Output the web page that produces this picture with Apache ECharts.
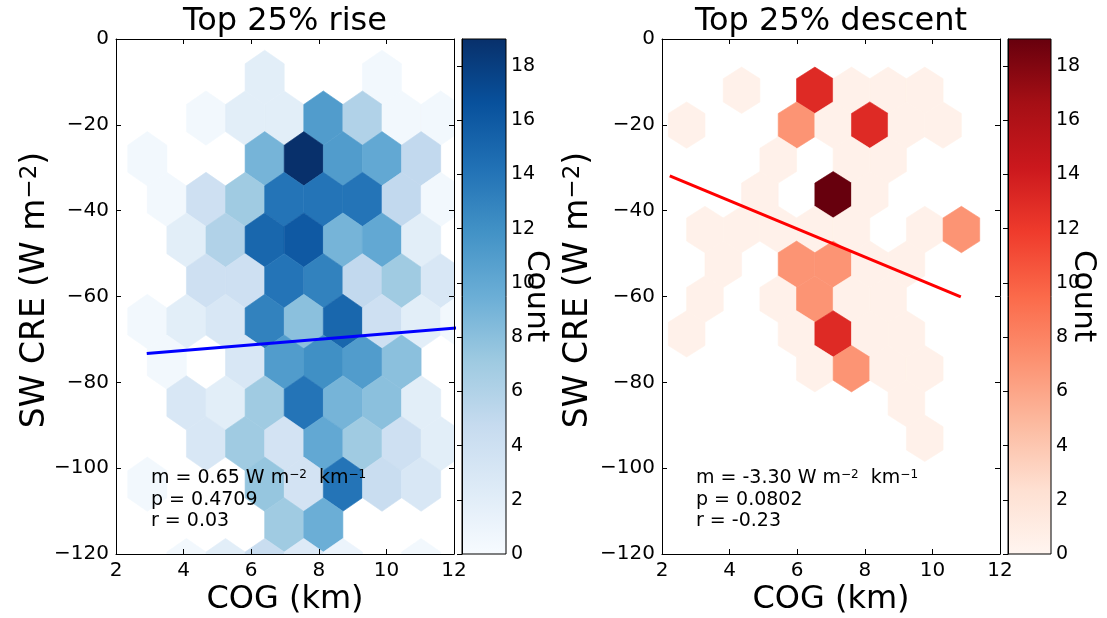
<!DOCTYPE html>
<html><head><meta charset="utf-8">
<script src="https://cdn.jsdelivr.net/npm/echarts@6/dist/echarts.min.js"></script>
<style>html,body{margin:0;padding:0;background:#fff}#c{width:1107px;height:618px}</style>
</head><body><div id="c"></div>
<script>
// ---------- data ----------
const xTicks = [2, 4, 6, 8, 10, 12];
const yTicks = [0, -20, -40, -60, -80, -100, -120];
const cbarTicks = [0, 2, 4, 6, 8, 10, 12, 14, 16, 18];
const countMax = 19;

// hexbin lattice of each panel: column k centre = x0 + dx*k, row j centre = y0 - dy*j,
// row j holds columns k = 2*c + ((j + parity) % 2)
const riseGrid = { x0: 2.348, dx: 0.5786, y0: 0.54, dy: 9.48, parity: 0 };
const descentGrid = { x0: 2.187, dx: 0.5419, y0: -3.844, dy: 8.109, parity: 1 };

// counts per hexagon row (rows j = 1, 2, ...)
const riseCounts = [
  [0, 0, 0, 2, 0, 0, 0.5, 0, 0],
  [0, 0, 0.5, 2, 2, 11, 6, 0.5, 0.5],
  [0.5, 0, 0, 9, 19, 11, 10, 5, 0],
  [0, 0.5, 4, 7, 14, 14, 14, 5, 0.5],
  [0, 2, 6, 15, 16, 9, 10, 2, 0],
  [0, 0, 4, 4, 14, 13, 5, 7, 3],
  [0.5, 2, 3, 13, 8, 15, 4, 2, 0.5],
  [0, 0.5, 0, 3, 11, 12, 11, 8, 0],
  [0, 3, 2, 7, 14, 9, 8, 2, 0],
  [0, 0, 3, 7, 3.5, 10, 7, 4, 2],
  [0.5, 0, 0, 7.5, 3.5, 14, 4.5, 3, 0],
  [0, 0, 0, 0, 7, 9.5, 0, 0, 0],
  [0, 0.5, 2, 4.5, 2.5, 1, 0, 0.5, 0]
];
const descentCounts = [
  [0, 0, 0.5, 0, 13, 0.5, 0.5, 0.5, 0, 0],
  [0.5, 0, 0, 7, 0.5, 13, 0.5, 0.5, 0],
  [0, 0, 0, 0.5, 0, 0.5, 0.5, 0, 0, 0],
  [0, 0, 0.5, 0, 19, 0.5, 0, 0, 0],
  [0, 0.5, 0.5, 0.5, 0.5, 0.5, 0, 0.5, 7, 0],
  [0, 0.5, 0, 7, 7, 0.5, 0.5, 0, 0],
  [0, 0.5, 0, 0.5, 7, 0.5, 0.5, 0, 0, 0],
  [0.5, 0, 0, 0.5, 13, 0.5, 0.5, 0, 0],
  [0, 0, 0, 0, 0.5, 7, 0.5, 0.5, 0, 0],
  [0, 0, 0, 0, 0, 0, 0.5, 0, 0],
  [0, 0, 0, 0, 0, 0, 0, 0.5, 0, 0]
];

// regression lines [x, y]
const riseFit = [[2.91, -73.3], [12.3, -67.2]];
const descentFit = [[2.23, -31.9], [10.84, -60.1]];

const riseStats = ['m = 0.65 W m', 'p = 0.4709', 'r = 0.03'];
const descentStats = ['m = -3.30 W m', 'p = 0.0802', 'r = -0.23'];

const BLUES = ['#f7fbff', '#deebf7', '#c6dbef', '#9ecae1', '#6baed6', '#4292c6', '#2171b5', '#08519c', '#08306b'];
const REDS = ['#fff5f0', '#fee0d2', '#fcbba1', '#fc9272', '#fb6a4a', '#ef3b2c', '#cb181d', '#a50f15', '#67000d'];

// ---------- helpers ----------
const FONT = '"DejaVu Sans", "Liberation Sans", sans-serif';
function hex2rgb(h) { return [1, 3, 5].map(i => parseInt(h.substr(i, 2), 16)); }
function cmapColor(cm, t) {
  t = Math.max(0, Math.min(1, t));
  const p = t * (cm.length - 1), i = Math.min(cm.length - 2, Math.floor(p)), f = p - i;
  const a = hex2rgb(cm[i]), b = hex2rgb(cm[i + 1]);
  return 'rgb(' + a.map((v, n) => Math.round(v + (b[n] - v) * f)).join(',') + ')';
}
const minus = v => (v < 0 ? '\u2212' + Math.abs(v) : String(v));

function hexSeries(grid, rows, cm, axisIdx) {
  const data = [];
  rows.forEach((row, jj) => {
    const j = jj + 1;
    row.forEach((c, ci) => {
      if (c > 0) {
        const k = 2 * ci + ((j + grid.parity) % 2);
        data.push([grid.x0 + grid.dx * k, grid.y0 - grid.dy * j, c]);
      }
    });
  });
  return {
    type: 'custom', xAxisIndex: axisIdx, yAxisIndex: axisIdx, clip: true, data: data, z: 2,
    renderItem: function (params, api) {
      const cx = api.value(0), cy = api.value(1), c = api.value(2);
      const hw = grid.dx, q = grid.dy / 3;
      const pts = [[cx + hw, cy - q], [cx + hw, cy + q], [cx, cy + 2 * q], [cx - hw, cy + q], [cx - hw, cy - q], [cx, cy - 2 * q]]
        .map(p => api.coord(p));
      const col = cmapColor(cm, c / countMax);
      return { type: 'polygon', shape: { points: pts }, style: { fill: col, stroke: col, lineWidth: 0.6 } };
    }
  };
}
function cbarSeries(cm, axisIdx) {
  return {
    type: 'custom', xAxisIndex: axisIdx, yAxisIndex: axisIdx, data: [[0]],
    renderItem: function (params, api) {
      const p0 = api.coord([0, countMax]), p1 = api.coord([1, 0]);
      const stops = cm.map((c, i) => ({ offset: i / (cm.length - 1), color: c }));
      return {
        type: 'rect', shape: { x: p0[0], y: p0[1], width: p1[0] - p0[0], height: p1[1] - p0[1] },
        style: { fill: new echarts.graphic.LinearGradient(0, 1, 0, 0, stops), stroke: '#000', lineWidth: 1 }
      };
    }
  };
}
function lineSeries(pts, color, axisIdx) {
  return { type: 'line', xAxisIndex: axisIdx, yAxisIndex: axisIdx, data: pts, showSymbol: false, symbol: 'none',
    clip: true, silent: true, z: 3, lineStyle: { color: color, width: 3 }, animation: false };
}

const lineCol = { color: '#000', width: 1 };
function mainX(gi, pos, labels) {
  return { gridIndex: gi, type: 'value', position: pos, min: xTicks[0], max: xTicks[xTicks.length - 1], interval: 2,
    axisLine: { show: true, onZero: false, lineStyle: lineCol },
    axisTick: { show: true, inside: true, length: 5, lineStyle: lineCol },
    axisLabel: { show: labels, fontSize: 20, color: '#000', fontFamily: FONT, margin: 7 },
    splitLine: { show: false }, z: 5 };
}
function mainY(gi, pos, labels) {
  return { gridIndex: gi, type: 'value', position: pos, min: yTicks[yTicks.length - 1], max: yTicks[0], interval: 20,
    axisLine: { show: true, onZero: false, lineStyle: lineCol },
    axisTick: { show: true, inside: true, length: 5, lineStyle: lineCol },
    axisLabel: { show: labels, fontSize: 20, color: '#000', fontFamily: FONT, margin: 7, formatter: minus },
    splitLine: { show: false }, z: 5 };
}
function cbX(gi) {
  return { gridIndex: gi, type: 'value', min: 0, max: 1, show: false };
}
function cbY(gi) {
  return { gridIndex: gi, type: 'value', position: 'right', min: cbarTicks[0], max: countMax, interval: 2,
    axisLine: { show: true, lineStyle: lineCol },
    axisTick: { show: true, inside: true, length: 5, lineStyle: lineCol },
    axisLabel: { show: true, fontSize: 19, color: '#000', fontFamily: FONT, margin: 5, showMaxLabel: false },
    splitLine: { show: false }, z: 5 };
}

function txt(x, y, text, size, extra) {
  return Object.assign({ type: 'text', x: x, y: y, z: 100, silent: true,
    style: { text: text, fontSize: size, fontFamily: FONT, fill: '#000', align: 'center', verticalAlign: 'middle' } }, extra || {});
}
function richTxt(x, y, parts, size, supSize, extra) {
  return Object.assign({ type: 'text', x: x, y: y, z: 100, silent: true,
    style: { text: parts, fontSize: size, fontFamily: FONT, fill: '#000', align: 'center', verticalAlign: 'middle',
      rich: { a: { fontSize: size, fontFamily: FONT, fill: '#000' },
              s: { fontSize: supSize, fontFamily: FONT, fill: '#000', verticalAlign: 'top' } } } }, extra || {});
}
function statBlock(x, y, lines) {
  const rich = { a: { fontSize: 19, fontFamily: FONT, fill: '#000' },
                 s: { fontSize: 12, fontFamily: FONT, fill: '#000', verticalAlign: 'top' } };
  return [
    { type: 'text', x: x, y: y, z: 100, silent: true, style: { text: '{a|' + lines[0] + '}{s|\u22122}{a|  km}{s|\u22121}', rich: rich,
      fontSize: 19, fontFamily: FONT, fill: '#000', align: 'left', verticalAlign: 'middle' } },
    { type: 'text', x: x, y: y + 22, z: 100, silent: true, style: { text: lines[1], fontSize: 19, fontFamily: FONT, fill: '#000', align: 'left', verticalAlign: 'middle' } },
    { type: 'text', x: x, y: y + 43, z: 100, silent: true, style: { text: lines[2], fontSize: 19, fontFamily: FONT, fill: '#000', align: 'left', verticalAlign: 'middle' } }
  ];
}

const chart = echarts.init(document.getElementById('c'), null, { renderer: 'canvas' });
chart.setOption({
  animation: false,
  backgroundColor: '#fff',
  grid: [
    { left: 116, top: 39, width: 338, height: 515, outerBoundsMode: 'none', containLabel: false },
    { left: 462, top: 39, width: 44, height: 515, outerBoundsMode: 'none', containLabel: false },
    { left: 662, top: 39, width: 338, height: 515, outerBoundsMode: 'none', containLabel: false },
    { left: 1008, top: 39, width: 43, height: 515, outerBoundsMode: 'none', containLabel: false }
  ],
  xAxis: [mainX(0, 'bottom', true), mainX(0, 'top', false), cbX(1), mainX(2, 'bottom', true), mainX(2, 'top', false), cbX(3)],
  yAxis: [mainY(0, 'left', true), mainY(0, 'right', false), cbY(1), mainY(2, 'left', true), mainY(2, 'right', false), cbY(3)],
  series: [
    hexSeries(riseGrid, riseCounts, BLUES, 0),
    lineSeries(riseFit, '#0000ff', 0),
    cbarSeries(BLUES, 2),
    hexSeries(descentGrid, descentCounts, REDS, 3),
    lineSeries(descentFit, '#ff0000', 3),
    cbarSeries(REDS, 5)
  ],
  graphic: [].concat(
    [
      txt(285, 22, 'Top 25% rise', 32),
      txt(831, 22, 'Top 25% descent', 32),
      txt(285, 600, 'COG (km)', 32),
      txt(831, 600, 'COG (km)', 32),
      richTxt(35, 290, '{a|SW CRE (W m}{s|\u22122}{a|)}', 33, 23, { rotation: Math.PI / 2 }),
      richTxt(578, 290, '{a|SW CRE (W m}{s|\u22122}{a|)}', 33, 23, { rotation: Math.PI / 2 }),
      txt(536, 296, 'Count', 31, { rotation: -Math.PI / 2 }),
      txt(1083, 296, 'Count', 31, { rotation: -Math.PI / 2 })
    ],
    statBlock(151, 478, riseStats),
    statBlock(696, 478, descentStats)
  )
});
</script></body></html>
